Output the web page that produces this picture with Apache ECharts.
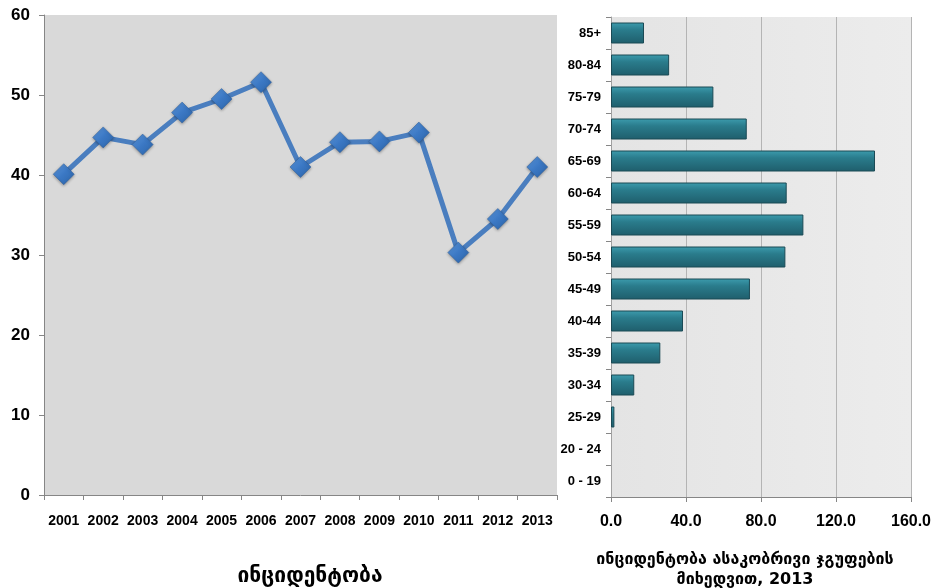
<!DOCTYPE html>
<html><head><meta charset="utf-8">
<script src="https://cdn.jsdelivr.net/npm/echarts@6/dist/echarts.min.js"></script>
<style>html,body{margin:0;padding:0;background:#fff}#c{width:940px;height:588px}</style>
</head><body><div id="c"></div>
<script>
const years = ['2001','2002','2003','2004','2005','2006','2007','2008','2009','2010','2011','2012','2013'];
const incidence = [40.1, 44.7, 43.8, 47.8, 49.5, 51.6, 41.0, 44.1, 44.2, 45.3, 30.3, 34.5, 41.0];
const ageGroups = ['0 - 19','20 - 24','25-29','30-34','35-39','40-44','45-49','50-54','55-59','60-64','65-69','70-74','75-79','80-84','85+'];
const ageIncidence = [0, 0, 1.8, 12.4, 26.3, 38.4, 74.1, 93.0, 102.6, 93.7, 140.8, 72.4, 54.6, 31.0, 17.6];
const leftTitle = 'ინციდენტობა';
const rightTitle = 'ინციდენტობა ასაკობრივი ჯგუფების\nმიხედვით, 2013';

const bold = {fontFamily:'Liberation Sans, Arial, sans-serif', fontWeight:'bold', color:'#000'};
const chart = echarts.init(document.getElementById('c'));
chart.setOption({
  animation:false,
  backgroundColor:'#fff',
  title:[
    {text:leftTitle, left:305, top:561, textAlign:'center',
     textStyle:{fontFamily:'DejaVu Sans', fontWeight:'bold', fontSize:21, color:'#000'}},
    {text:rightTitle, left:740, top:545, textAlign:'center',
     textStyle:{fontFamily:'DejaVu Sans', fontWeight:'bold', fontSize:16, color:'#000', lineHeight:20}}
  ],
  grid:[
    {left:44, top:15, width:513, height:480, show:true, backgroundColor:'#d9d9d9', borderWidth:0},
    {left:611, top:17, width:300, height:480, show:true, borderWidth:0,
     backgroundColor:new echarts.graphic.LinearGradient(0,0,1,0,[{offset:0,color:'#e4e4e4'},{offset:1,color:'#ececec'}])}
  ],
  xAxis:[
    {type:'category', gridIndex:0, data:years, boundaryGap:true,
     axisLine:{lineStyle:{color:'#868686'}},
     axisTick:{show:true, length:5, lineStyle:{color:'#868686'}},
     axisLabel:Object.assign({interval:0, fontSize:14, margin:19}, bold)},
    {type:'value', gridIndex:1, min:0, max:160, interval:40,
     axisLine:{show:true, lineStyle:{color:'#868686'}},
     axisTick:{show:true, length:5, lineStyle:{color:'#868686'}},
     splitLine:{show:true, lineStyle:{color:'#b4b4b4'}},
     axisLabel:Object.assign({fontSize:16, margin:17, formatter:v=>v.toFixed(1)}, bold)}
  ],
  yAxis:[
    {type:'value', gridIndex:0, min:0, max:60, interval:10,
     axisLine:{show:true, lineStyle:{color:'#868686'}},
     axisTick:{show:true, length:5, lineStyle:{color:'#868686'}},
     splitLine:{show:false},
     axisLabel:Object.assign({fontSize:17, margin:14}, bold)},
    {type:'category', gridIndex:1, data:ageGroups, boundaryGap:true,
     axisLine:{show:true, lineStyle:{color:'#a0a0a0'}},
     axisTick:{show:true, length:5, lineStyle:{color:'#868686'}},
     axisLabel:Object.assign({interval:0, fontSize:13, margin:10}, bold)}
  ],
  series:[
    {type:'line', xAxisIndex:0, yAxisIndex:0, data:incidence,
     lineStyle:{color:'#4a7ebf', width:5},
     symbol:'diamond', symbolSize:[21,21],
     itemStyle:{color:new echarts.graphic.LinearGradient(0,0,1,1,[{offset:0,color:'#5d98dc'},{offset:0.5,color:'#3b78c4'},{offset:1,color:'#2c64a8'}]),
       borderColor:'#2f5f9a', borderWidth:0.5, shadowColor:'rgba(0,0,0,0.35)', shadowBlur:3, shadowOffsetY:1}},
    {type:'bar', xAxisIndex:1, yAxisIndex:1, barWidth:21,
     data:ageIncidence.map(v => v === 0 ? {value:v, itemStyle:{borderWidth:0}} : v),
     itemStyle:{color:new echarts.graphic.LinearGradient(0,0,0,1,[{offset:0,color:'#3d9cae'},{offset:0.35,color:'#2a7c8c'},{offset:1,color:'#1f5e6c'}]),
       borderColor:'#1b4a55', borderWidth:1}}
  ]
});
</script></body></html>
